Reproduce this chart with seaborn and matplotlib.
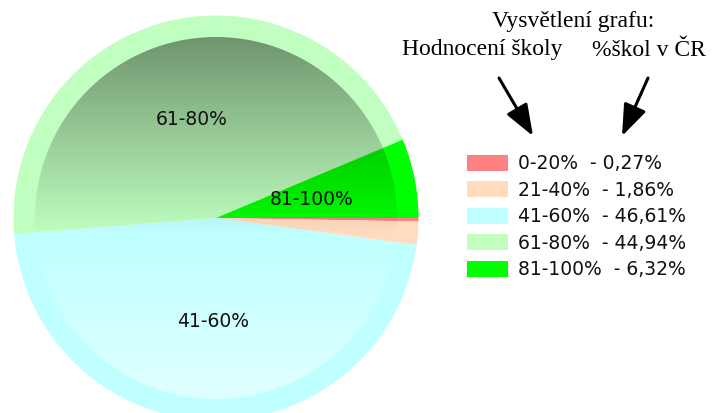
import numpy as np
import matplotlib
matplotlib.use("Agg")
import matplotlib.pyplot as plt
from matplotlib.patches import Circle, FancyArrowPatch
import seaborn as sns

categories = ["0-20%", "21-40%", "41-60%", "61-80%", "81-100%"]
values = [0.27, 1.86, 46.61, 44.94, 6.32]
value_labels = ["0,27%", "1,86%", "46,61%", "44,94%", "6,32%"]
colors = ["#ff8080", "#ffdcc0", "#c0ffff", "#c0ffc0", "#00ff00"]
pie_labels = ["", "", "41-60%", "61-80%", "81-100%"]

sns.set_theme(style="white")
plt.rcParams['font.family'] = ['DejaVu Sans']

W, H = 713, 414
fig = plt.figure(figsize=(W / 100, H / 100), dpi=100)
ax = fig.add_axes([0, 0, 1, 1])

cx, cy, R, Ri = 216, 219, 202.5, 181

# with inverted y, counterclock=True draws visually clockwise
wedges, _ = ax.pie(values, colors=colors, startangle=0, counterclock=True,
                   radius=R, center=(cx, cy), frame=True,
                   wedgeprops=dict(linewidth=0))

# gradient shading of the inner disc
n = 400
t = np.linspace(0, 1, n)[:, None]
rgba = np.zeros((n, 2, 4))
dark = np.clip(0.42 * (1 - t / 0.55), 0, None)
light = np.clip(0.5 * (t - 0.55) / 0.45, 0, None)
rgba[..., :3] = np.where(t < 0.55, 0.0, 1.0)[..., None]
rgba[..., 3] = np.where(t < 0.55, dark, light)
im = ax.imshow(rgba, extent=(cx - Ri, cx + Ri, cy + Ri, cy - Ri),
               interpolation="bilinear", zorder=3, aspect="auto")
clip = Circle((cx, cy), Ri, transform=ax.transData)
im.set_clip_path(clip)

ax.set_xlim(0, W)
ax.set_ylim(H, 0)
ax.set_aspect("equal")
ax.axis("off")

# slice labels
cum = np.cumsum([0] + values)
for lab, a0, a1 in zip(pie_labels, cum[:-1], cum[1:]):
    if not lab:
        continue
    mid = np.deg2rad((a0 + a1) / 2 * 3.6)
    rr = 0.505 * R if (a1 - a0) > 20 else 0.48 * R
    x = cx + rr * np.cos(mid)
    y = cy + rr * np.sin(mid)
    ax.text(x, y, lab, ha="center", va="center", fontsize=13.5,
            color="#111111", zorder=5)

# legend
for i, (cat, val, col) in enumerate(zip(categories, value_labels, colors)):
    yc = 163.5 + i * 26.6
    ax.add_patch(plt.Rectangle((467, yc - 8), 41, 16, facecolor=col,
                               edgecolor="none", zorder=4))
    ax.text(518, yc, f"{cat}  - {val}", ha="left", va="center",
            fontsize=13.5, color="#111111", zorder=5)

# explanatory text
serif = ['Liberation Serif', 'DejaVu Serif']
ax.text(573, 22, "Vysvětlení grafu:", ha="center", va="center",
        fontsize=17, family=serif, color="black")
ax.text(482, 50, "Hodnocení školy", ha="center", va="center",
        fontsize=17, family=serif, color="black")
ax.text(649, 50, "%škol v ČR", ha="center", va="center",
        fontsize=17, family=serif, color="black")

for (x0, y0), (x1, y1) in [((499, 79), (533, 137)), ((648, 79), (622, 137))]:
    ax.add_patch(FancyArrowPatch((x0, y0), (x1, y1),
                                 arrowstyle="-|>,head_length=1.6,head_width=0.6",
                                 mutation_scale=12, lw=2.2, color="black",
                                 shrinkA=0, shrinkB=0, zorder=6))

fig.savefig("out.png", dpi=100)
